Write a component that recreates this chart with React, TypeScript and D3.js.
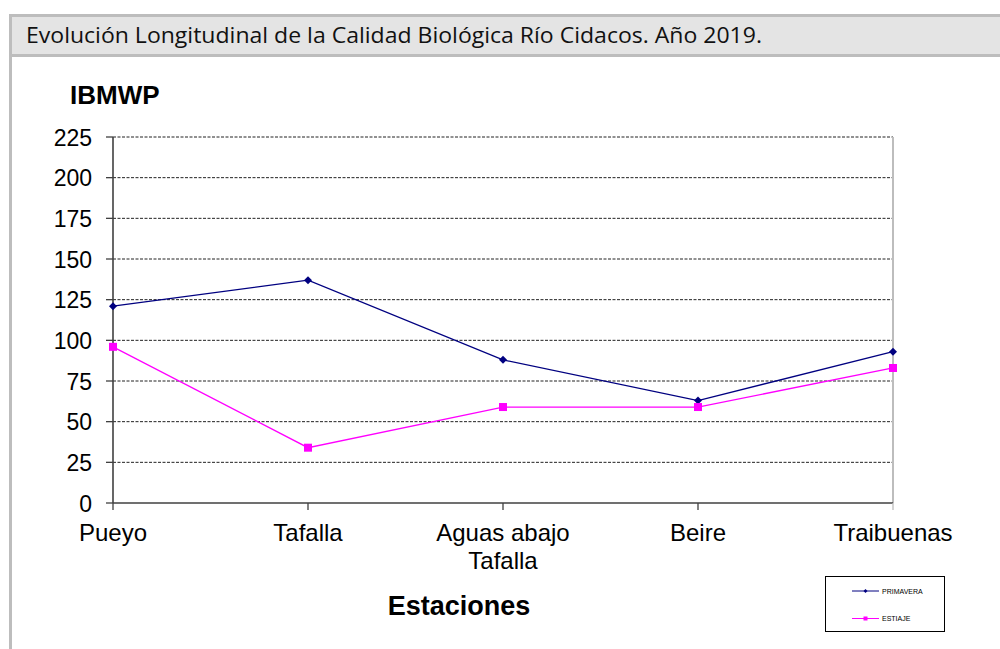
import React from "react";
import * as d3 from "d3";

const categories: string[][] = [["Pueyo"], ["Tafalla"], ["Aguas abajo", "Tafalla"], ["Beire"], ["Traibuenas"]];
const primavera: number[] = [121, 137, 88, 63, 93];
const estiaje: number[] = [96, 34, 59, 59, 83];
const yTicks: number[] = [0, 25, 50, 75, 100, 125, 150, 175, 200, 225];
const title = "Evolución Longitudinal de la Calidad Biológica Río Cidacos. Año 2019.";

export default function App() {
  const W = 1000, H = 649;
  const left = 113, right = 893, top = 137, bottom = 503;
  const x = d3.scalePoint<number>().domain(d3.range(categories.length)).range([left, right]);
  const y = d3.scaleLinear().domain([0, 225]).range([bottom, top]);
  const line = d3.line<number>().x((_, i) => x(i)!).y((d) => y(d));
  const font = "Liberation Sans, Arial, sans-serif";
  return (
    <svg width={W} height={H} style={{ position: "absolute", left: 0, top: 0, display: "block" }}>
      <rect x={0} y={0} width={W} height={H} fill="#fff" />
      {/* header */}
      <rect x={10.5} y={15.5} width={W} height={40} fill="#e4e4e4" stroke="#bdbdbd" strokeWidth={3} />
      <line x1={10.5} x2={10.5} y1={55} y2={H} stroke="#bdbdbd" strokeWidth={3} />
      <text x={26} y={43} fontFamily="Open Sans, sans-serif" fontSize={21} fill="#111" textLength={736} lengthAdjust="spacingAndGlyphs">
        {title}
      </text>
      {/* gridlines */}
      {yTicks.filter((t) => t > 0).map((t) => (
        <line key={t} x1={left} x2={right} y1={y(t)} y2={y(t)} stroke="#222" strokeWidth={1} strokeDasharray="3,1.5" />
      ))}
      {/* right border */}
      <line x1={right} x2={right} y1={top} y2={bottom} stroke="#bdbdbd" strokeWidth={2} />
      {/* axes */}
      <line x1={left} x2={left} y1={top} y2={bottom} stroke="#404040" strokeWidth={1.6} />
      <line x1={left} x2={right} y1={bottom} y2={bottom} stroke="#404040" strokeWidth={1.6} />
      {yTicks.map((t) => (
        <g key={t}>
          <line x1={left - 7} x2={left} y1={y(t)} y2={y(t)} stroke="#404040" strokeWidth={1.3} />
          <text x={92} y={y(t) + 8.5} textAnchor="end" fontFamily={font} fontSize={23} fill="#000">{t}</text>
        </g>
      ))}
      {categories.map((c, i) => (
        <g key={i}>
          <line x1={x(i)!} x2={x(i)!} y1={bottom} y2={bottom + 7} stroke={i === categories.length - 1 ? "#bdbdbd" : "#404040"} strokeWidth={1.3} />
          {c.map((s, j) => (
            <text key={j} x={x(i)!} y={541 + j * 28} textAnchor="middle" fontFamily={font} fontSize={24} fill="#000">{s}</text>
          ))}
        </g>
      ))}
      {/* series */}
      <path d={line(primavera)!} fill="none" stroke="#000080" strokeWidth={1.3} />
      <path d={line(estiaje)!} fill="none" stroke="#ff00ff" strokeWidth={1.3} />
      {primavera.map((v, i) => (
        <path key={i} d={`M${x(i)},${y(v) - 4}L${x(i)! + 4},${y(v)}L${x(i)},${y(v) + 4}L${x(i)! - 4},${y(v)}Z`} fill="#000080" />
      ))}
      {estiaje.map((v, i) => (
        <rect key={i} x={x(i)! - 4} y={y(v) - 4} width={8} height={8} fill="#ff00ff" />
      ))}
      {/* axis titles */}
      <text x={70} y={104} fontFamily={font} fontSize={26} fontWeight="bold" fill="#000">IBMWP</text>
      <text x={459} y={615} textAnchor="middle" fontFamily={font} fontSize={27} fontWeight="bold" fill="#000">Estaciones</text>
      {/* legend */}
      <rect x={825.5} y={576.5} width={119} height={55} fill="#fff" stroke="#000" strokeWidth={1} />
      <line x1={852} x2={879} y1={591} y2={591} stroke="#000080" strokeWidth={1} />
      <path d="M865.5,589L867.5,591L865.5,593L863.5,591Z" fill="#000080" />
      <text x={882} y={593.5} fontFamily={font} fontSize={7} fill="#000">PRIMAVERA</text>
      <line x1={852} x2={879} y1={618.5} y2={618.5} stroke="#ff00ff" strokeWidth={1} />
      <rect x={863.5} y={616.5} width={4} height={4} fill="#ff00ff" />
      <text x={882} y={621} fontFamily={font} fontSize={7} fill="#000">ESTIAJE</text>
    </svg>
  );
}
